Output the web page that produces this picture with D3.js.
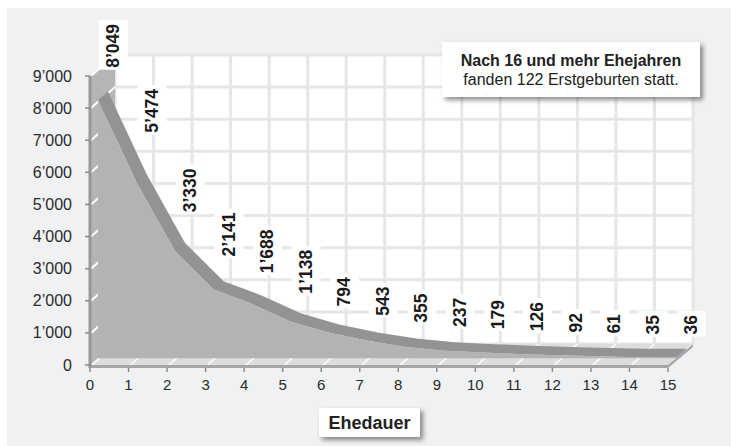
<!DOCTYPE html>
<html>
<head>
<meta charset="utf-8">
<script src="https://cdn.jsdelivr.net/npm/d3@7"></script>
<style>
  body { margin: 0; background: #fff; }
  svg { display: block; font-family: "Liberation Sans", Arial, sans-serif; }
</style>
</head>
<body>
<div id="chart"></div>
<script>
// Ehedauer (years of marriage) and first births
const years = [0, 1, 2, 3, 4, 5, 6, 7, 8, 9, 10, 11, 12, 13, 14, 15];
const births = [8049, 5474, 3330, 2141, 1688, 1138, 794, 543, 355, 237, 179, 126, 92, 61, 35, 36];
const yTicks = [0, 1000, 2000, 3000, 4000, 5000, 6000, 7000, 8000, 9000];
const noteLines = ["Nach 16 und mehr Ehejahren", "fanden 122 Erstgeburten statt."];
const axisTitle = "Ehedauer";

const W = 733, H = 446;
const depth = { dx: 25, dy: -21 }; // full wall depth in px
const front = 0.32, back = 0.72;    // series depth band

const fmt = d3.formatLocale({ decimal: ".", thousands: "\u2019", grouping: [3], currency: ["", ""] }).format(",");

const x = d3.scaleLinear().domain([0, 15]).range([90, 668]);
const y = d3.scaleLinear().domain([0, 9000]).range([365, 76]);

const svg = d3.select("#chart").append("svg")
  .attr("width", W)
  .attr("height", H);

const defs = svg.append("defs");
const shadow = defs.append("filter").attr("id", "shadow")
  .attr("x", "-10%").attr("y", "-20%").attr("width", "130%").attr("height", "160%");
shadow.append("feDropShadow")
  .attr("dx", 3).attr("dy", 3).attr("stdDeviation", 2.5)
  .attr("flood-color", "#000").attr("flood-opacity", 0.45);

// panel
svg.append("rect")
  .attr("x", 7).attr("y", 8).attr("width", 724).attr("height", 438)
  .attr("fill", "#f0f1f3");

const pt = (px, py, f) => [px + depth.dx * f, py + depth.dy * f];
const x0 = x(0), x1 = x(15), yb = y(0), yt = y(9000);

// back wall
svg.append("rect")
  .attr("x", x0 + depth.dx).attr("y", yt + depth.dy)
  .attr("width", x1 - x0).attr("height", yb - yt)
  .attr("fill", "#fff");

const grid = svg.append("g")
  .attr("stroke", "#e5e6e8")
  .attr("stroke-width", 3);

grid.selectAll(".h").data(yTicks).enter().append("line")
  .attr("x1", x0 + depth.dx).attr("x2", x1 + depth.dx)
  .attr("y1", d => y(d) + depth.dy).attr("y2", d => y(d) + depth.dy);

grid.selectAll(".v").data(years).enter().append("line")
  .attr("x1", d => x(d) + depth.dx).attr("x2", d => x(d) + depth.dx)
  .attr("y1", yt + depth.dy).attr("y2", yb + depth.dy);

// left wall
svg.append("polygon")
  .attr("points", [[x0, yb], [x0, yt], pt(x0, yt, 1), pt(x0, yb, 1)].join(" "))
  .attr("fill", "#b4b5b7");

svg.append("g").selectAll("line").data(yTicks.slice(1)).enter().append("line")
  .attr("x1", x0 + 1).attr("y1", d => y(d))
  .attr("x2", x0 + depth.dx).attr("y2", d => y(d) + depth.dy)
  .attr("stroke", "#fff").attr("stroke-width", 2);

// floor
svg.append("polygon")
  .attr("points", [[x0, yb], [x1, yb], pt(x1, yb, 1), pt(x0, yb, 1)].join(" "))
  .attr("fill", "#dcdddf");

svg.append("g").selectAll("line").data(years).enter().append("line")
  .attr("x1", d => x(d) + 2).attr("y1", yb)
  .attr("x2", d => x(d) + depth.dx).attr("y2", yb + depth.dy)
  .attr("stroke", "#fff").attr("stroke-width", 1.5);

svg.append("polygon")
  .attr("points", [[x0, yb], [x1, yb], pt(x1, yb, 1), pt(x1, yb + 3, 1), [x1, yb + 3], [x0, yb + 3]].join(" "))
  .attr("fill", "#a5a6a8");

// series
const frontPts = years.map((d, i) => pt(x(d), y(births[i]), front));
const backPts = years.map((d, i) => pt(x(d), y(births[i]), back));
const last = years.length - 1;

svg.append("polygon")
  .attr("points", frontPts.concat(backPts.slice().reverse()).join(" "))
  .attr("fill", "#929395");

svg.append("polygon")
  .attr("points", [frontPts[last], backPts[last], pt(x1, yb, back), pt(x1, yb, front)].join(" "))
  .attr("fill", "#929395");

svg.append("polygon")
  .attr("points", [pt(x0, yb, front)].concat(frontPts, [pt(x1, yb, front)]).join(" "))
  .attr("fill", "#b2b3b5");

// axes
svg.append("line")
  .attr("x1", x0).attr("x2", x0).attr("y1", yt).attr("y2", yb + 3)
  .attr("stroke", "#97989a").attr("stroke-width", 3);

svg.append("g").selectAll("line").data(yTicks).enter().append("line")
  .attr("x1", x0 - 5).attr("x2", x0).attr("y1", d => y(d)).attr("y2", d => y(d))
  .attr("stroke", "#8a8b8d").attr("stroke-width", 1.5);

svg.append("g").selectAll("line").data(years).enter().append("line")
  .attr("x1", d => x(d)).attr("x2", d => x(d)).attr("y1", yb + 3).attr("y2", yb + 7)
  .attr("stroke", "#8a8b8d").attr("stroke-width", 1.5);

svg.append("g").selectAll("text").data(yTicks).enter().append("text")
  .attr("x", 72).attr("y", d => y(d))
  .attr("dy", "0.35em")
  .attr("text-anchor", "end")
  .attr("font-size", 16)
  .attr("fill", "#2a2a2a")
  .text(d => fmt(d));

svg.append("g").selectAll("text").data(years).enter().append("text")
  .attr("x", d => x(d)).attr("y", 390)
  .attr("text-anchor", "middle")
  .attr("font-size", 15)
  .attr("fill", "#2a2a2a")
  .text(d => d);

// data labels
const labels = svg.append("g");
years.forEach((d, i) => {
  const v = births[i];
  const cx = x(d) + 23;
  const g = labels.append("g");
  const t = g.append("text")
    .attr("transform", "rotate(-90)")
    .attr("font-size", 17.5)
    .attr("font-weight", "bold")
    .attr("fill", "#1a1a1a")
    .attr("dy", "0.35em")
    .text(fmt(v));
  const len = t.node().getComputedTextLength();
  let bottom = y(v) + depth.dy * back - (14 + 0.005 * v);
  if (bottom - len < 24) bottom = 24 + len;
  t.attr("x", -bottom).attr("y", cx);
  g.insert("rect", "text")
    .attr("x", cx - 14).attr("width", 29)
    .attr("y", bottom - len - 4).attr("height", len + 6)
    .attr("fill", "#fff");
});

// note box
const note = svg.append("g");
note.append("rect")
  .attr("x", 442).attr("y", 42).attr("width", 258).attr("height", 55)
  .attr("fill", "#fff").attr("filter", "url(#shadow)");
note.selectAll("text").data(noteLines).enter().append("text")
  .attr("x", 571).attr("y", (d, i) => 66 + i * 19)
  .attr("text-anchor", "middle")
  .attr("font-size", 16)
  .attr("font-weight", (d, i) => i === 0 ? "bold" : "normal")
  .attr("fill", "#222")
  .text(d => d);

// axis title
svg.append("rect")
  .attr("x", 319).attr("y", 408).attr("width", 101).attr("height", 29)
  .attr("fill", "#fff").attr("filter", "url(#shadow)");
svg.append("text")
  .attr("x", 369.5).attr("y", 429)
  .attr("text-anchor", "middle")
  .attr("font-size", 18)
  .attr("font-weight", "bold")
  .attr("fill", "#222")
  .text(axisTitle);
</script>
</body>
</html>
